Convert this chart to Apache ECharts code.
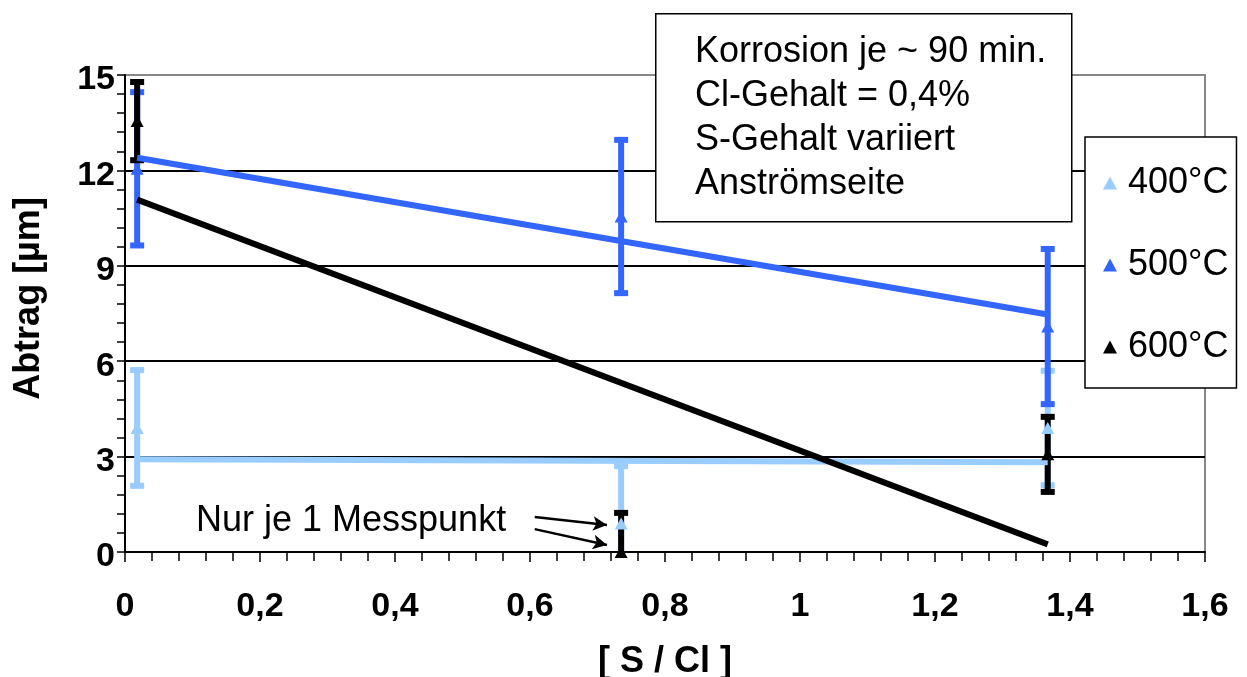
<!DOCTYPE html>
<html><head><meta charset="utf-8">
<script src="https://cdn.jsdelivr.net/npm/echarts@6/dist/echarts.min.js"></script>
<style>html,body{margin:0;padding:0;background:#fff}#c{width:1247px;height:677px}</style>
</head><body><div id="c"></div>
<script>
// ---- data ----
const seriesNames = ['400°C', '500°C', '600°C'];
const seriesColors = ['#99CCFF', '#3366FF', '#000000'];
const xPositions = [0.018, 0.735, 1.367];
const values400 = [3.9, 0.9, 3.9];
const errors400 = [1.82, 1.8, 1.8];
const values500 = [12.05, 10.55, 7.09];
const errors500 = [2.41, 2.41, 2.44];
const values600 = [13.55, 0.0, 3.07];
const errors600 = [1.23, 1.23, 1.18];
const trendX = [0.018, 1.367];
const trend400 = [2.92, 2.82];
const trend500 = [12.4, 7.47];
const trend600 = [11.08, 0.24];
const xTickLabels = ['0', '0,2', '0,4', '0,6', '0,8', '1', '1,2', '1,4', '1,6'];
const yTickLabels = ['0', '3', '6', '9', '12', '15'];
const xAxisTitle = '[ S / Cl ]';
const yAxisTitle = 'Abtrag [µm]';
const infoLines = ['Korrosion je ~ 90 min.', 'Cl-Gehalt = 0,4%', 'S-Gehalt variiert', 'Anströmseite'];
const noteText = 'Nur je 1 Messpunkt';
const arrowSegments = [[[0.607, 1.1], [0.714, 0.85]], [[0.607, 0.72], [0.714, 0.22]]];

const FONT = '"Liberation Sans", Arial, Helvetica, sans-serif';
const allValues = [values400, values500, values600];
const allErrors = [errors400, errors500, errors600];
const allTrends = [trend400, trend500, trend600];

function errSeries(idx) {
  return {
    type: 'custom', name: seriesNames[idx] + ' Fehler', clip: true, z: 2,
    data: xPositions.map((x, i) => [x, allValues[idx][i], allErrors[idx][i]]),
    renderItem: function (params, api) {
      const x = api.value(0), y = api.value(1), e = api.value(2);
      const top = api.coord([x, y + e]), bot = api.coord([x, y - e]);
      const col = seriesColors[idx];
      const capW = 14, capH = 6, lw = 6;
      return {
        type: 'group', children: [
          { type: 'rect', shape: { x: top[0] - lw / 2, y: top[1], width: lw, height: bot[1] - top[1] }, style: { fill: col } },
          { type: 'rect', shape: { x: top[0] - capW / 2, y: top[1] - capH / 2, width: capW, height: capH }, style: { fill: col } },
          { type: 'rect', shape: { x: bot[0] - capW / 2, y: bot[1] - capH / 2, width: capW, height: capH }, style: { fill: col } }
        ]
      };
    }
  };
}
function trendSeries(idx) {
  return {
    type: 'line', name: seriesNames[idx] + ' Trend', z: 3, symbol: 'none', silent: true,
    data: trendX.map((x, i) => [x, allTrends[idx][i]]),
    lineStyle: { color: seriesColors[idx], width: 6 }
  };
}
function markerSeries(idx) {
  const s = {
    type: 'scatter', name: seriesNames[idx], z: 4, symbol: 'triangle', symbolSize: [13, 12],
    data: xPositions.map((x, i) => [x, allValues[idx][i]]),
    itemStyle: { color: seriesColors[idx], opacity: 1 }
  };
  if (idx === 2) {
    s.markLine = {
      silent: true, symbol: ['none', 'arrow'], symbolSize: [11, 14], animation: false,
      lineStyle: { color: '#000', width: 2.5, type: 'solid' }, label: { show: false },
      data: arrowSegments.map(seg => [{ coord: seg[0] }, { coord: seg[1] }])
    };
  }
  return s;
}

const chart = echarts.init(document.getElementById('c'), null, { renderer: 'canvas' });
chart.setOption({
  animation: false,
  backgroundColor: '#fff',
  grid: {
    left: 125, right: 42, top: 75, bottom: 125, containLabel: false, outerBoundsMode: 'none',
    show: true, borderColor: '#888', borderWidth: 2, backgroundColor: 'transparent'
  },
  xAxis: {
    type: 'value', min: 0, max: 1.6, interval: 0.2,
    name: xAxisTitle, nameLocation: 'middle', nameGap: 92,
    nameTextStyle: { fontFamily: FONT, fontSize: 36, fontWeight: 'bold', color: '#000' },
    axisLine: { show: true, lineStyle: { color: '#000', width: 2 } },
    axisTick: { show: true, length: 10, lineStyle: { color: '#000', width: 1.5 } },
    minorTick: { show: true, splitNumber: 5, length: 9, lineStyle: { color: '#000', width: 1.5 } },
    splitLine: { show: false },
    axisLabel: {
      margin: 38, fontFamily: FONT, fontSize: 34, lineHeight: 34, fontWeight: 'bold', color: '#000',
      formatter: v => xTickLabels[Math.round(v / 0.2)]
    }
  },
  yAxis: {
    type: 'value', min: 0, max: 15, interval: 3,
    name: yAxisTitle, nameLocation: 'middle', nameGap: 78, nameRotate: 90,
    nameTextStyle: { fontFamily: FONT, fontSize: 36, fontWeight: 'bold', color: '#000', padding: [0, 0, 0, 30] },
    axisLine: { show: true, lineStyle: { color: '#000', width: 2 } },
    axisTick: { show: true, length: 8, lineStyle: { color: '#000', width: 1.5 } },
    minorTick: { show: true, splitNumber: 5, length: 8, lineStyle: { color: '#000', width: 1.5 } },
    splitLine: { show: true, lineStyle: { color: ['#000', '#000', '#000', '#000', '#000', '#888'], width: 2 } },
    axisLabel: {
      margin: 10, fontFamily: FONT, fontSize: 34, lineHeight: 10, verticalAlign: 'top', fontWeight: 'bold', color: '#000',
      formatter: v => yTickLabels[Math.round(v / 3)]
    }
  },
  legend: {
    data: seriesNames, orient: 'vertical', left: 1085, top: 137, icon: 'triangle',
    itemWidth: 14, itemHeight: 13, itemGap: 46, selectedMode: false,
    padding: [28, 8, 23, 18], backgroundColor: '#fff', borderColor: '#000', borderWidth: 1.5,
    textStyle: { fontFamily: FONT, fontSize: 36, lineHeight: 36, color: '#000', padding: [0, 0, 0, 6] }
  },
  graphic: [
    { type: 'rect', left: 655, top: 13, z: 10, shape: { width: 416, height: 208 }, style: { fill: '#fff', stroke: '#000', lineWidth: 1.5 } },
    { type: 'text', left: 695, top: 30, z: 11, style: { text: infoLines.join('\n'), font: '36px ' + FONT, lineHeight: 44, fill: '#000' } },
    { type: 'text', left: 196, top: 503, z: 11, style: { text: noteText, font: '36px ' + FONT, lineHeight: 36, fill: '#000' } }
  ],
  series: [
    errSeries(0), errSeries(1), errSeries(2),
    trendSeries(0), trendSeries(1), trendSeries(2),
    markerSeries(0), markerSeries(1), markerSeries(2)
  ]
});
</script>
</body></html>
